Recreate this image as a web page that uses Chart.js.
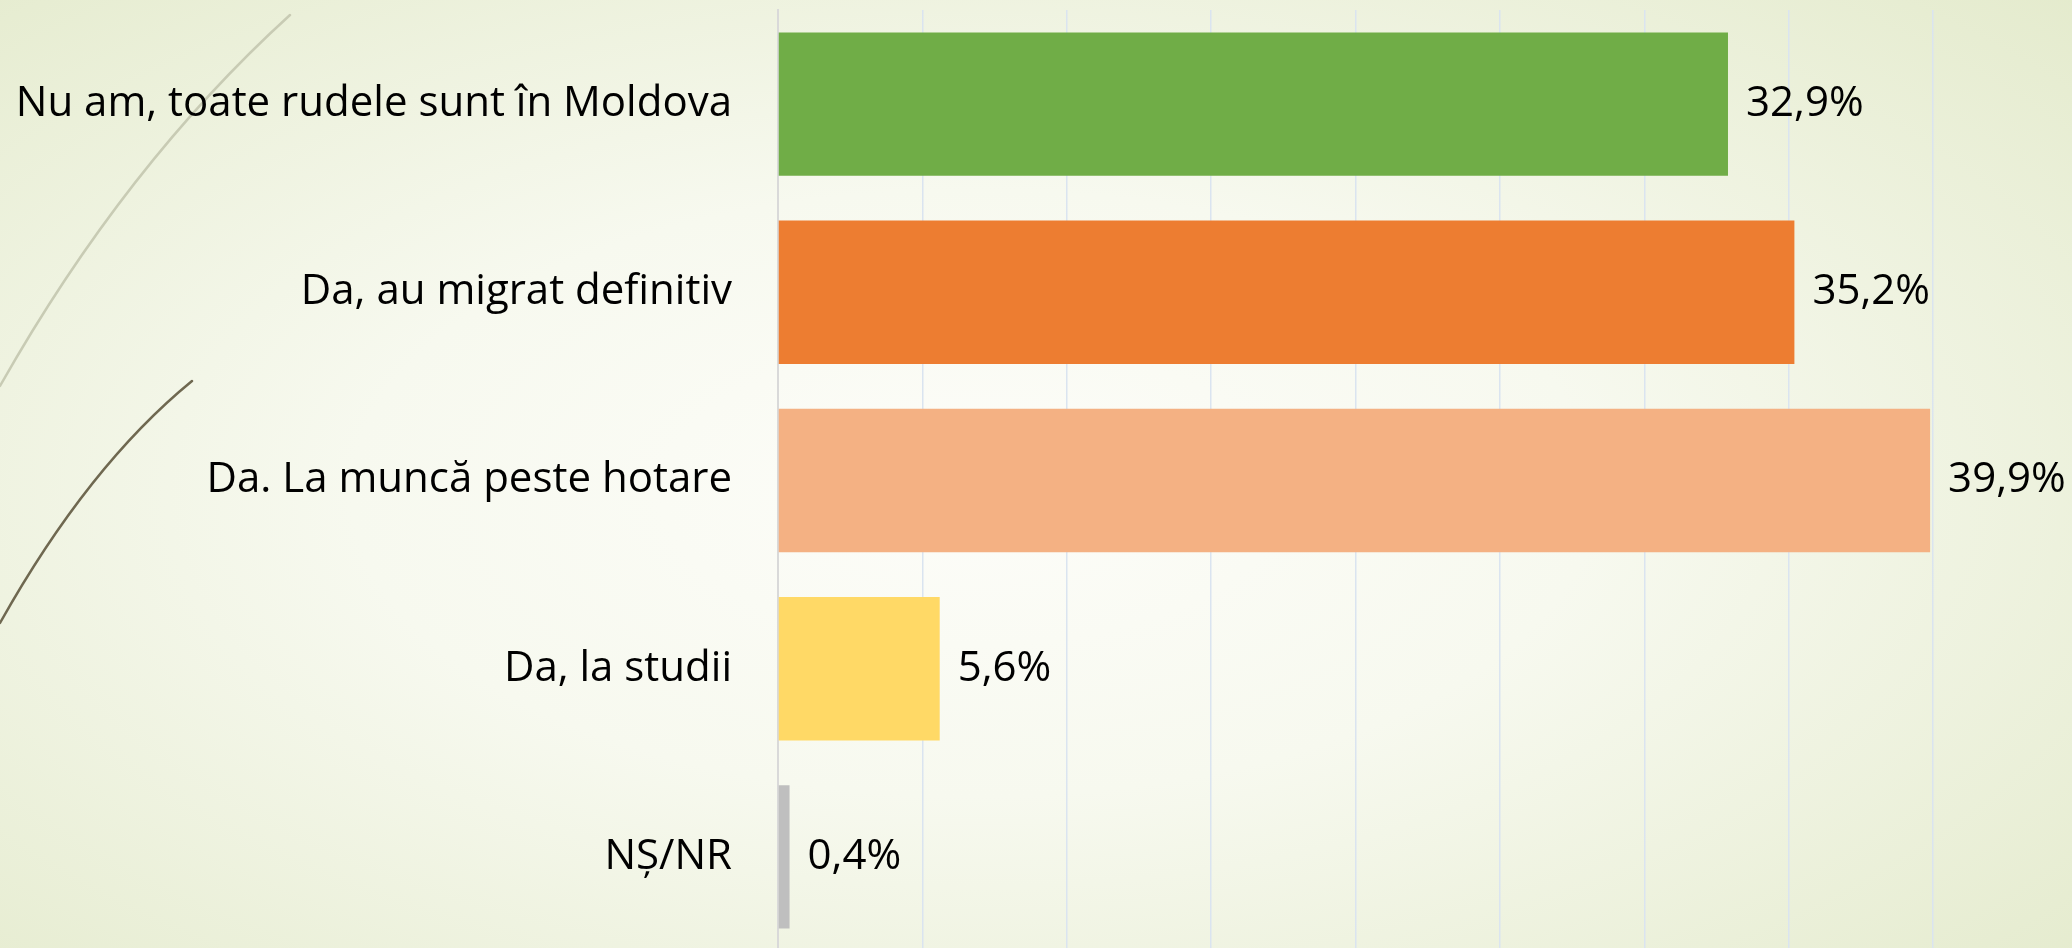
<!DOCTYPE html>
<html>
<head>
<meta charset="utf-8">
<script src="https://cdn.jsdelivr.net/npm/chart.js@4.4.1/dist/chart.umd.min.js"></script>
<style>
    html, body { margin: 0; padding: 0; overflow: hidden; }
    body {
        width: 2072px;
        height: 948px;
        background: radial-gradient(ellipse 75% 80% at 47% 52%, #fdfdf9 0%, #f7f9ef 40%, #e3eacb 100%);
    }
    #wrap { position: relative; width: 2072px; height: 951px; }
</style>
</head>
<body>
<div id="wrap"><canvas id="myBarChart"></canvas></div>
<script>
'use strict';

const categories = [
    'Nu am, toate rudele sunt în Moldova',
    'Da, au migrat definitiv',
    'Da. La muncă peste hotare',
    'Da, la studii',
    'NȘ/NR'
];
const shares = [32.9, 35.2, 39.9, 5.6, 0.4];
const barColors = ['#70ad47', '#ed7d31', '#f4b183', '#ffd966', '#bfbfbf'];

const FONT = '"Open Sans", "DejaVu Sans", sans-serif';

// Decorative strokes on the slide background
const backdrop = {
    id: 'backdrop',
    beforeDraw(chart) {
        const ctx = chart.ctx;
        ctx.save();
        ctx.lineCap = 'round';
        ctx.strokeStyle = '#c8cbb4';
        ctx.lineWidth = 2.5;
        ctx.beginPath();
        ctx.moveTo(0, 386);
        ctx.quadraticCurveTo(125, 165, 290, 15);
        ctx.stroke();
        ctx.strokeStyle = '#6f6850';
        ctx.lineWidth = 2.5;
        ctx.beginPath();
        ctx.moveTo(0, 623);
        ctx.quadraticCurveTo(88, 466, 192, 381);
        ctx.stroke();
        ctx.restore();
    }
};

// Value labels to the right of each bar
const valueLabels = {
    id: 'valueLabels',
    afterDatasetsDraw(chart) {
        const ctx = chart.ctx;
        const meta = chart.getDatasetMeta(0);
        ctx.save();
        ctx.font = '42px ' + FONT;
        ctx.fillStyle = '#000';
        ctx.textAlign = 'left';
        ctx.textBaseline = 'middle';
        meta.data.forEach((bar, i) => {
            const txt = shares[i].toFixed(1).replace('.', ',') + '%';
            ctx.fillText(txt, bar.x + 18, bar.y);
        });
        ctx.restore();
    }
};

function graphInit() {
    const canvas = document.getElementById('myBarChart');
    const ctx = canvas.getContext('2d');
    return new Chart(ctx, {
        type: 'bar',
        data: {
            labels: categories,
            datasets: [{
                data: shares,
                backgroundColor: barColors,
                borderWidth: 0,
                categoryPercentage: 1,
                barPercentage: 0.762
            }]
        },
        options: {
            indexAxis: 'y',
            responsive: true,
            maintainAspectRatio: false,
            animation: false,
            events: [],
            layout: { padding: { top: 10, right: 139, bottom: 0, left: 0 } },
            plugins: {
                legend: { display: false },
                tooltip: { enabled: false }
            },
            scales: {
                x: {
                    min: 0,
                    max: 40,
                    afterFit(scale) {
                        scale.height = 0;
                        scale.paddingLeft = 0;
                        scale.paddingRight = 0;
                    },
                    ticks: { display: false, stepSize: 5 },
                    grid: { color: '#dae4f0', lineWidth: 1.5, drawTicks: false },
                    border: { display: false }
                },
                y: {
                    afterFit(scale) {
                        scale.width = 778;
                        scale.paddingTop = 0;
                        scale.paddingBottom = 0;
                    },
                    ticks: {
                        color: '#000',
                        padding: 46,
                        font: { family: FONT, size: 42 }
                    },
                    grid: { display: false, drawTicks: false },
                    border: { display: true, color: '#d9d9d9', width: 2 }
                }
            }
        },
        plugins: [backdrop, valueLabels]
    });
}

graphInit();
</script>
</body>
</html>
